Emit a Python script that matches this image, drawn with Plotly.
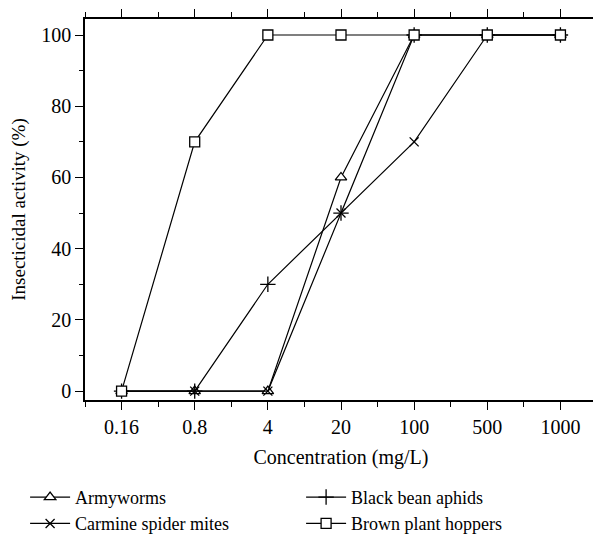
import plotly.graph_objects as go

categories = ["0.16", "0.8", "4", "20", "100", "500", "1000"]
armyworms = [0, 0, 0, 60, 100, 100, 100]
black_bean_aphids = [0, 0, 30, 50, 100, 100, 100]
carmine_spider_mites = [0, 0, 0, 50, 70, 100, 100]
brown_plant_hoppers = [0, 70, 100, 100, 100, 100, 100]

xpos = list(range(len(categories)))
FONT = "Liberation Serif"

series = [
    ("Armyworms", armyworms, "triangle-up", "white", 10),
    ("Black bean aphids", black_bean_aphids, "cross-thin-open", "black", 11),
    ("Carmine spider mites", carmine_spider_mites, "x-thin-open", "black", 9),
    ("Brown plant hoppers", brown_plant_hoppers, "square", "white", 10),
]

fig = go.Figure()
for name, vals, sym, fill, size in series:
    fig.add_trace(go.Scatter(
        x=xpos, y=vals, name=name, mode="lines+markers",
        line=dict(color="black", width=1.2),
        marker=dict(symbol=sym, size=size, color=fill,
                    line=dict(color="black", width=1.3)),
    ))

# invisible trace on secondary y axis to show inner right ticks
fig.add_trace(go.Scatter(x=[xpos[0]], y=[0], yaxis="y2", showlegend=False,
                         mode="markers", marker=dict(opacity=0), hoverinfo="skip"))

# the page body adds an 8px offset, so the figure is 8px smaller than the window
fig.update_layout(
    width=593, height=527,
    margin=dict(l=77, r=4, t=11, b=135, autoexpand=False),
    paper_bgcolor="white", plot_bgcolor="white",
    font=dict(family=FONT, size=20, color="black"),
    showlegend=True,
    legend=dict(orientation="h", x=-0.117, y=-0.207, xanchor="left", yanchor="top",
                entrywidth=221, entrywidthmode="pixels",
                font=dict(family=FONT, size=18), tracegroupgap=0,
                itemwidth=40, bgcolor="rgba(0,0,0,0)"),
    xaxis=dict(
        range=[-0.5, 6.5], tickvals=xpos, ticktext=categories, automargin=False,
        showline=True, linecolor="black", linewidth=1.5, mirror="ticks",
        ticks="outside", ticklen=8, tickwidth=1.3, tickcolor="black",
        minor=dict(ticks="outside", ticklen=5, tickwidth=1.3, dtick=0.5, tick0=0, tickcolor="black"),
        showgrid=False, zeroline=False, tickfont=dict(size=20),
        title=dict(text="Concentration (mg/L)", font=dict(size=20), standoff=13),
    ),
    yaxis=dict(
        range=[-2.5, 104.5], tickvals=[0, 20, 40, 60, 80, 100], automargin=False,
        showline=True, linecolor="black", linewidth=1.5, mirror=True,
        ticks="outside", ticklen=8, tickwidth=1.3, tickcolor="black",
        minor=dict(ticks="outside", ticklen=4, tickwidth=1.3, dtick=10, tick0=0, tickcolor="black"),
        showgrid=False, zeroline=False, tickfont=dict(size=20),
        title=dict(text="Insecticidal activity (%)", font=dict(size=19), standoff=14),
    ),
    yaxis2=dict(
        range=[-2.5, 104.5], overlaying="y", side="right", anchor="x",
        dtick=10, tick0=0, ticks="inside", ticklen=4, tickwidth=1.3, tickcolor="black",
        showticklabels=False, showgrid=False, zeroline=False, showline=False,
        automargin=False,
    ),
)

fig.write_html("out.html")
